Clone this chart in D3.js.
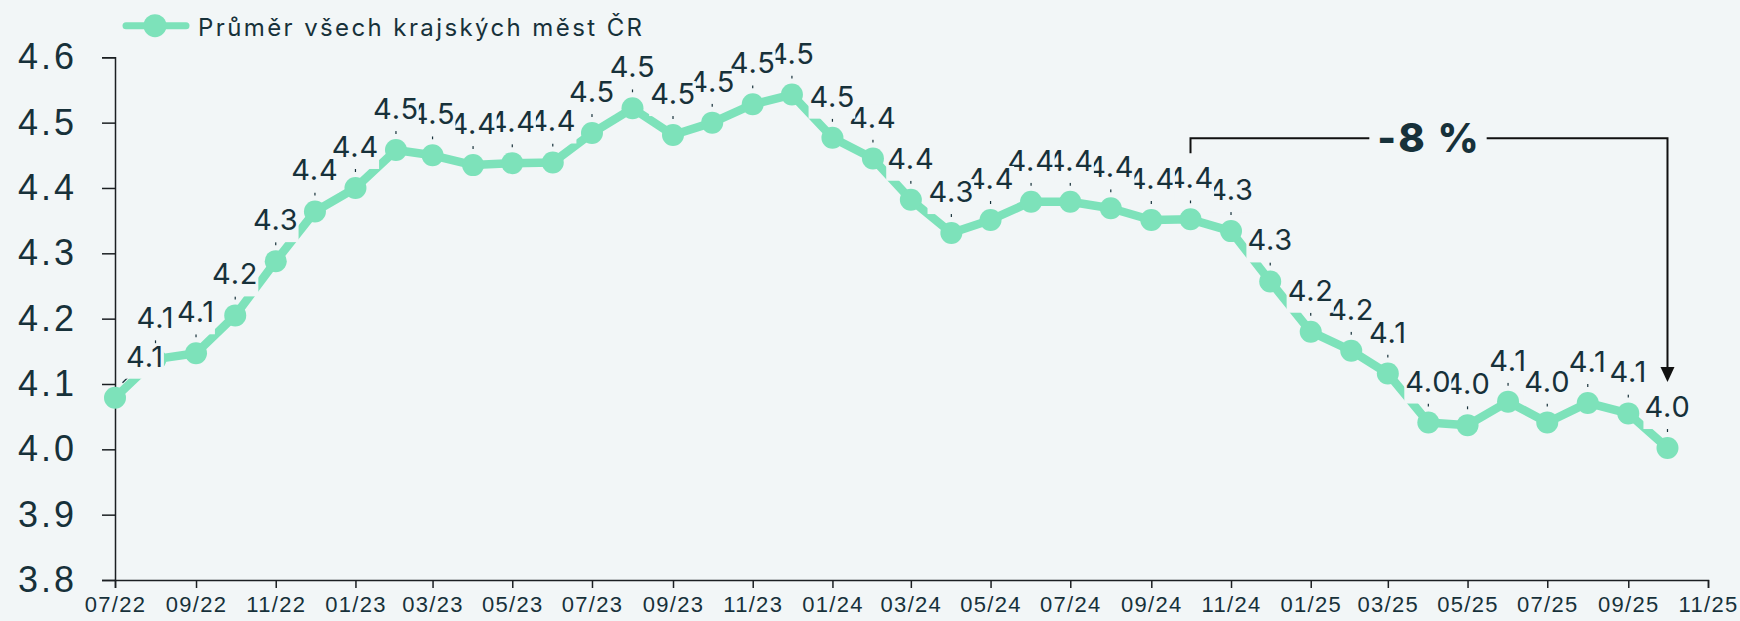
<!DOCTYPE html>
<html>
<head>
<meta charset="utf-8">
<script src="https://cdn.jsdelivr.net/npm/d3@7"></script>
<style>
  body { margin: 0; background: #f2f6f7; }
  svg { display: block; font-family: Inter, "Open Sans", sans-serif; }
  .axis path, .axis line { stroke: #1b1f22; stroke-width: 1.5; }
  .axis text { fill: #17313a; }
</style>
</head>
<body>
<div id="chart"></div>
<script>
// monthly averages, 07/2022 - 10/2025
var months = ["2022-07","2022-08","2022-09","2022-10","2022-11","2022-12",
  "2023-01","2023-02","2023-03","2023-04","2023-05","2023-06","2023-07","2023-08","2023-09","2023-10","2023-11","2023-12",
  "2024-01","2024-02","2024-03","2024-04","2024-05","2024-06","2024-07","2024-08","2024-09","2024-10","2024-11","2024-12",
  "2025-01","2025-02","2025-03","2025-04","2025-05","2025-06","2025-07","2025-08","2025-09","2025-10"];
var values = [4.079, 4.138, 4.147, 4.205, 4.288, 4.364,
  4.400, 4.458, 4.450, 4.435, 4.438, 4.439, 4.484, 4.522, 4.481, 4.500, 4.528, 4.543,
  4.477, 4.445, 4.382, 4.331, 4.351, 4.379, 4.379, 4.369, 4.351, 4.352, 4.334, 4.257,
  4.180, 4.151, 4.116, 4.041, 4.037, 4.073, 4.041, 4.071, 4.055, 4.002];
var yTicks = [3.8, 3.9, 4.0, 4.1, 4.2, 4.3, 4.4, 4.5, 4.6];
var xDomain = ["2022-07", "2025-11"];
var seriesName = "Průměr všech krajských měst ČR";
var changeFrom = "2024-10", changeTo = "2025-10";

var width = 1740, height = 621;
var green = "#7de2ba", ink = "#17313a", bg = "#f2f6f7";
var parse = d3.timeParse("%Y-%m");

var data = months.map(function(m, i) { return {date: parse(m), value: values[i], i: i}; });

var x = d3.scaleTime()
    .domain(xDomain.map(parse))
    .range([115, 1708]);

var y = d3.scaleLinear()
    .domain([3.8, 4.6])
    .range([580, 57.3]);

var svg = d3.select("#chart").append("svg")
    .attr("width", width)
    .attr("height", height);

svg.append("rect").attr("width", width).attr("height", height).attr("fill", bg);

// axes
svg.append("g")
    .attr("class", "axis")
    .attr("transform", "translate(" + x.range()[0] + ",0)")
    .call(d3.axisLeft(y).tickValues(yTicks).tickSize(13).tickPadding(25).tickFormat(d3.format(".1f")))
    .call(g => g.selectAll("text").style("font-size", "36px").style("letter-spacing", "3px"));

svg.append("g")
    .attr("class", "axis")
    .attr("transform", "translate(0," + y.range()[0] + ")")
    .call(d3.axisBottom(x).ticks(d3.timeMonth.every(2)).tickSize(8).tickPadding(8).tickFormat(d3.timeFormat("%m/%y")))
    .call(g => g.selectAll("text").style("font-size", "22px").style("letter-spacing", "1.3px"));

// line
var line = d3.line().x(d => x(d.date)).y(d => y(d.value));

svg.append("path")
    .datum(data)
    .attr("d", line)
    .attr("fill", "none")
    .attr("stroke", green)
    .attr("stroke-width", 8.5)
    .attr("stroke-linejoin", "round");

// label offsets (first label pushed off the axis)
function ldx(d) { return d.i == 0 ? 30 : 0; }
var lift = 31;

// leaders
svg.append("g").selectAll("line")
    .data(data)
    .enter().append("line")
    .attr("x1", d => x(d.date) + ldx(d) * 0.55)
    .attr("x2", d => x(d.date) + ldx(d) * 0.25)
    .attr("y1", d => y(d.value) - 24)
    .attr("y2", d => y(d.value) - 15)
    .attr("stroke", ink)
    .attr("stroke-width", 1.2)
    .attr("stroke-dasharray", d => d.i == 0 ? null : "3 2");

// markers
svg.append("g").selectAll("circle")
    .data(data)
    .enter().append("circle")
    .attr("cx", d => x(d.date))
    .attr("cy", d => y(d.value))
    .attr("r", 11)
    .attr("fill", green);

// value labels, drawn right to left with a background box
var fmt = d3.format(".1f");
var lab = svg.append("g").selectAll("g")
    .data(data.slice().reverse())
    .enter().append("g");

lab.append("rect").attr("fill", bg);
lab.append("text")
    .attr("x", d => x(d.date) + ldx(d))
    .attr("y", d => y(d.value) - lift)
    .attr("text-anchor", "middle")
    .attr("fill", ink)
    .style("font-size", "29px")
    .style("letter-spacing", "0.8px")
    .text(d => fmt(d.value));

lab.each(function() {
  var b = d3.select(this).select("text").node().getBBox();
  d3.select(this).select("rect")
    .attr("x", b.x - 1).attr("y", b.y + 5)
    .attr("width", b.width + 1).attr("height", b.height);
});

// change annotation
var a = data.find(d => +d.date == +parse(changeFrom));
var z = data.find(d => +d.date == +parse(changeTo));
var ax = x(a.date), zx = x(z.date);
var annTop = y(a.value) - 81;
var pct = Math.round((z.value / a.value - 1) * 100);

var ann = svg.append("g");
ann.append("path")
    .attr("d", "M" + ax + "," + (y(a.value) - 66) + "V" + annTop + "H" + zx + "V" + (y(z.value) - 80))
    .attr("fill", "none")
    .attr("stroke", "#111")
    .attr("stroke-width", 2);
ann.append("path")
    .attr("d", "M" + (zx - 7) + "," + (y(z.value) - 81) + "L" + (zx + 7) + "," + (y(z.value) - 81) + "L" + zx + "," + (y(z.value) - 66) + "Z")
    .attr("fill", "#111");
var annText = ann.append("text")
    .attr("x", (ax + zx) / 2)
    .attr("y", annTop + 13.5)
    .attr("text-anchor", "middle")
    .attr("fill", ink)
    .style("font-size", "40px")
    .style("font-weight", 800)
    .style("letter-spacing", "2px")
    .text(pct + " %");
var tb = annText.node().getBBox();
ann.insert("rect", "text")
    .attr("x", tb.x - 8).attr("y", annTop - 3)
    .attr("width", tb.width + 14).attr("height", 6)
    .attr("fill", bg);

// legend
var leg = svg.append("g").attr("transform", "translate(126,25.7)");
leg.append("line")
    .attr("x1", 0).attr("x2", 60)
    .attr("stroke", green).attr("stroke-width", 7).attr("stroke-linecap", "round");
leg.append("circle").attr("cx", 29).attr("r", 11.5).attr("fill", green);
leg.append("text")
    .attr("x", 72).attr("y", 10.3)
    .attr("fill", ink)
    .style("font-size", "24px")
    .style("letter-spacing", "2.4px")
    .text(seriesName);
</script>
</body>
</html>
